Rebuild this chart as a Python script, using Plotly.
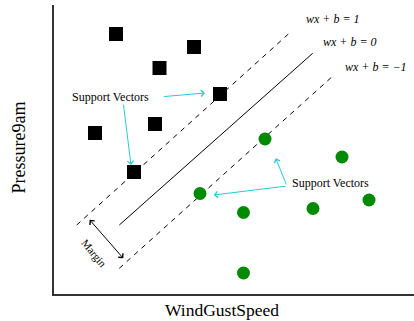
import plotly.graph_objects as go

# class A (squares) and class B (circles)
square_x = [62, 140, 105.5, 41, 101, 166, 80]
square_y = [260, 247, 226, 161, 170, 200, 122]
circle_x = [211, 288, 146, 189.5, 259, 315, 189.5]
circle_y = [155, 137, 100.5, 81.5, 85.5, 94, 21]

# hyperplane and margin lines (end points)
upper_x = [22.7, 236.3]
upper_y = [69, 261.7]
mid_x = [65.3, 258.7]
mid_y = [69, 240.7]
lower_x = [65.3, 279.7]
lower_y = [25.7, 218.7]

line_labels = ["<i>wx + b = 1</i>", "<i>wx + b = 0</i>", "<i>wx + b = \u22121</i>"]
label_x = [249.7, 267, 288.7]
label_y = [274.7, 252.3, 226.7]

SERIF = "Liberation Serif, Times New Roman, serif"
CYAN = "#2cc9d2"

fig = go.Figure()

fig.add_trace(go.Scatter(x=upper_x, y=upper_y, mode="lines",
                         line=dict(color="black", width=1, dash="5px,5px")))
fig.add_trace(go.Scatter(x=mid_x, y=mid_y, mode="lines",
                         line=dict(color="black", width=1)))
fig.add_trace(go.Scatter(x=lower_x, y=lower_y, mode="lines",
                         line=dict(color="black", width=1, dash="5px,5px")))

fig.add_trace(go.Scatter(x=square_x, y=square_y, mode="markers",
                         marker=dict(symbol="square", size=14, color="black")))
fig.add_trace(go.Scatter(x=circle_x, y=circle_y, mode="markers",
                         marker=dict(symbol="circle", size=13, color="#008a00")))

for txt, lx, ly in zip(line_labels, label_x, label_y):
    fig.add_annotation(x=lx, y=ly, text=txt, showarrow=False, xanchor="left",
                       font=dict(family=SERIF, size=12, color="black"))

# support vector labels and pointers
fig.add_annotation(x=56.8, y=196.7, text="Support Vectors", showarrow=False,
                   font=dict(family=SERIF, size=12, color="black"))
fig.add_annotation(x=276.5, y=111, text="Support Vectors", showarrow=False,
                   font=dict(family=SERIF, size=12, color="black"))

arrows = [
    ((108.3, 197.3), (151, 201)),
    ((69.3, 190.7), (77, 129)),
    ((233, 108), (221.7, 135.7)),
    ((233, 108), (159.7, 99)),
]
for (tx, ty), (hx, hy) in arrows:
    fig.add_annotation(x=hx, y=hy, ax=tx, ay=ty, axref="x", ayref="y",
                       text="", showarrow=True, arrowhead=4, arrowsize=1.2,
                       arrowwidth=1, arrowcolor=CYAN)

# margin
fig.add_annotation(x=69.3, y=35.7, ax=34.3, ay=75.7, axref="x", ayref="y",
                   text="", showarrow=True, arrowhead=4, arrowside="end+start",
                   arrowsize=1.2, arrowwidth=1, arrowcolor="black")
fig.add_annotation(x=40, y=41, text="Margin", showarrow=False, textangle=50,
                   font=dict(family=SERIF, size=11, color="black"))

# axis titles
fig.add_annotation(x=0.467, y=0, xref="paper", yref="paper", yshift=-16,
                   xanchor="center", yanchor="middle",
                   text="WindGustSpeed", showarrow=False,
                   font=dict(family=SERIF, size=17.5, color="black"))
fig.add_annotation(x=0, y=0.507, xref="paper", yref="paper", xshift=-35,
                   xanchor="center", yanchor="middle",
                   text="Pressure9am", showarrow=False, textangle=-90,
                   font=dict(family=SERIF, size=18, color="black"))

fig.update_xaxes(range=[0, 360], showgrid=False, zeroline=False, showticklabels=False,
                 ticks="", showline=True, linecolor="#333", linewidth=2)
fig.update_yaxes(range=[0, 289], showgrid=False, zeroline=False, showticklabels=False,
                 ticks="", showline=True, linecolor="#333", linewidth=2)

fig.update_layout(width=414, height=321, showlegend=False,
                  margin=dict(l=54, r=0, t=5, b=27, autoexpand=False),
                  plot_bgcolor="white", paper_bgcolor="white")

# page body has a default 8px margin; drop it so the figure fills the window
fig.write_html("out.html", config={"displayModeBar": False},
               post_script="document.body.style.margin='0';")
